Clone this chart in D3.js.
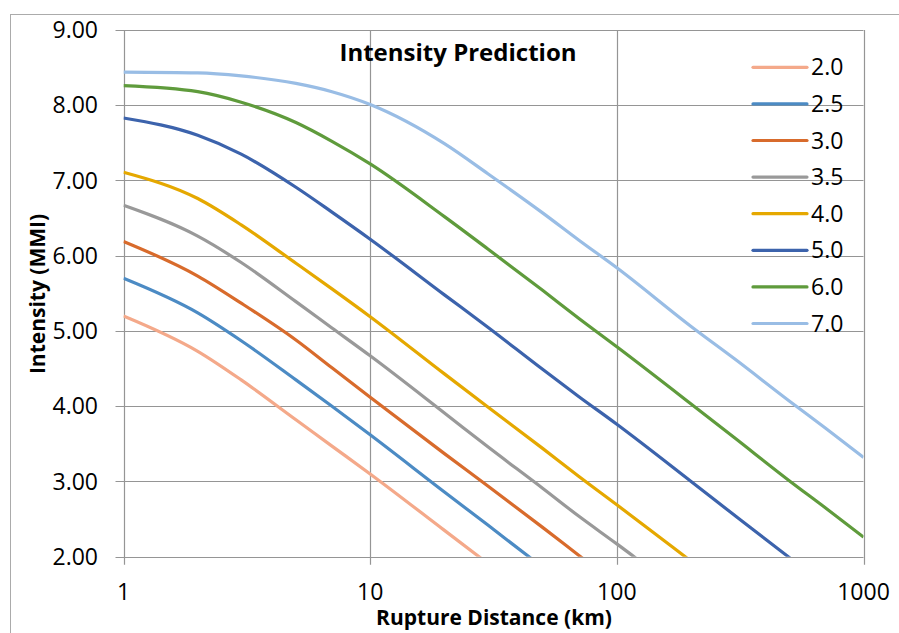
<!DOCTYPE html>
<html>
<head>
<meta charset="utf-8">
<script src="https://cdn.jsdelivr.net/npm/d3@7"></script>
<style>
  body { margin: 0; background: #fff; }
  text { font-family: "Open Sans", sans-serif; fill: #000; }
</style>
</head>
<body>
<script>
// rupture distance (km) where the curves were read
var distances = [1, 2, 3, 5, 7, 10, 20, 30, 50, 70, 100, 200, 300, 500, 700, 1000];

// magnitudes, one curve each
var magnitudes = ['2.0', '2.5', '3.0', '3.5', '4.0', '5.0', '6.0', '7.0'];

// intensity (MMI), null once the curve has left the plot
var m20 = [5.20, 4.73, 4.35, 3.82, 3.47, 3.10, 2.35, 1.91, null, null, null, null, null, null, null, null];
var m25 = [5.70, 5.24, 4.87, 4.35, 4.00, 3.62, 2.86, 2.42, 1.86, null, null, null, null, null, null, null];
var m30 = [6.19, 5.73, 5.37, 4.88, 4.51, 4.12, 3.37, 2.94, 2.39, 2.02, 1.63, null, null, null, null, null];
var m35 = [6.67, 6.26, 5.91, 5.39, 5.04, 4.67, 3.91, 3.46, 2.91, 2.54, 2.17, 1.42, null, null, null, null];
var m40 = [7.11, 6.76, 6.41, 5.90, 5.56, 5.19, 4.43, 3.99, 3.44, 3.07, 2.69, 1.94, 1.50, null, null, null];
var m50 = [7.83, 7.60, 7.35, 6.91, 6.58, 6.22, 5.48, 5.05, 4.49, 4.13, 3.76, 3.00, 2.55, 1.99, 1.63, null];
var m60 = [8.26, 8.18, 8.04, 7.77, 7.52, 7.22, 6.52, 6.09, 5.54, 5.17, 4.79, 4.03, 3.58, 3.01, 2.65, 2.26];
var m70 = [8.44, 8.43, 8.39, 8.29, 8.18, 8.01, 7.49, 7.09, 6.57, 6.21, 5.84, 5.06, 4.63, 4.07, 3.71, 3.32];

var seriesValues = [m20, m25, m30, m35, m40, m50, m60, m70];
var colors = ['#F4A98A', '#4C8BC4', '#D86B2C', '#999999', '#E5A800', '#3C63AC', '#5F9B3C', '#99BDE5'];

var yTicks = [2, 3, 4, 5, 6, 7, 8, 9];
var xTicks = [1, 10, 100, 1000];

var W = 899, H = 633;
var plot = { left: 123.5, right: 863.5, top: 30, bottom: 556.7 };

var svg = d3.select('body').append('svg')
  .attr('width', W)
  .attr('height', H);

// chart frame, runs off the right and bottom like the original
svg.append('rect')
  .attr('x', 10.5).attr('y', 14.5)
  .attr('width', 920).attr('height', 640)
  .attr('fill', '#fff')
  .attr('stroke', '#ABABAB')
  .attr('stroke-width', 1);

var x = d3.scaleLog().domain([1, 1000]).range([plot.left, plot.right]);
var y = d3.scaleLinear().domain([2, 9]).range([plot.bottom, plot.top]);

// gridlines (tick marks stick out past the axes)
svg.append('g').selectAll('line')
  .data(yTicks).enter().append('line')
  .attr('x1', plot.left - 8).attr('x2', plot.right)
  .attr('y1', function(d) { return Math.round(y(d)) + 0.5; })
  .attr('y2', function(d) { return Math.round(y(d)) + 0.5; })
  .attr('stroke', '#959595')
  .attr('stroke-width', 1.2);

svg.append('g').selectAll('line')
  .data(xTicks).enter().append('line')
  .attr('y1', plot.top).attr('y2', plot.bottom + 8)
  .attr('x1', function(d) { return Math.round(x(d)) + 0.5; })
  .attr('x2', function(d) { return Math.round(x(d)) + 0.5; })
  .attr('stroke', '#959595')
  .attr('stroke-width', 1.2);

// tick labels
svg.append('g').selectAll('text')
  .data(yTicks).enter().append('text')
  .attr('x', 98)
  .attr('y', function(d) { return y(d); })
  .attr('dy', '0.35em')
  .attr('text-anchor', 'end')
  .attr('font-size', 23)
  .text(function(d) { return d3.format('.2f')(d); });

svg.append('g').selectAll('text')
  .data(xTicks).enter().append('text')
  .attr('x', function(d) { return x(d); })
  .attr('y', 600)
  .attr('text-anchor', 'middle')
  .attr('font-size', 23)
  .text(function(d) { return d; });

// curves
svg.append('clipPath').attr('id', 'clip')
  .append('rect')
  .attr('x', plot.left).attr('y', plot.top)
  .attr('width', plot.right - plot.left).attr('height', plot.bottom - plot.top);

var line = d3.line()
  .defined(function(d) { return d.v != null; })
  .x(function(d) { return x(d.r); })
  .y(function(d) { return y(d.v); })
  .curve(d3.curveMonotoneX);

var series = magnitudes.map(function(m, i) {
  return {
    name: m,
    color: colors[i],
    pts: distances.map(function(r, j) { return { r: r, v: seriesValues[i][j] }; })
  };
});

svg.append('g').attr('clip-path', 'url(#clip)')
  .selectAll('path')
  .data(series).enter().append('path')
  .attr('d', function(d) { return line(d.pts); })
  .attr('fill', 'none')
  .attr('stroke', function(d) { return d.color; })
  .attr('stroke-width', 3.2)
  .attr('stroke-linejoin', 'round');

// legend
var leg = svg.append('g').selectAll('g')
  .data(series).enter().append('g')
  .attr('transform', function(d, i) { return 'translate(753,' + (67.3 + i * 36.6) + ')'; });

leg.append('line')
  .attr('x1', 0).attr('x2', 54)
  .attr('stroke', function(d) { return d.color; })
  .attr('stroke-width', 3.2)
  .attr('stroke-linecap', 'round');

leg.append('text')
  .attr('x', 58)
  .attr('dy', '0.35em')
  .attr('font-size', 23)
  .text(function(d) { return d.name; });

// titles
svg.append('text')
  .attr('x', 458).attr('y', 61)
  .attr('text-anchor', 'middle')
  .attr('font-size', 24)
  .attr('font-weight', 'bold')
  .text('Intensity Prediction');

svg.append('text')
  .attr('x', 494).attr('y', 625)
  .attr('text-anchor', 'middle')
  .attr('font-size', 21)
  .attr('font-weight', 'bold')
  .text('Rupture Distance (km)');

svg.append('text')
  .attr('transform', 'translate(45,294)rotate(-90)')
  .attr('text-anchor', 'middle')
  .attr('font-size', 21)
  .attr('font-weight', 'bold')
  .text('Intensity (MMI)');
</script>
</body>
</html>
